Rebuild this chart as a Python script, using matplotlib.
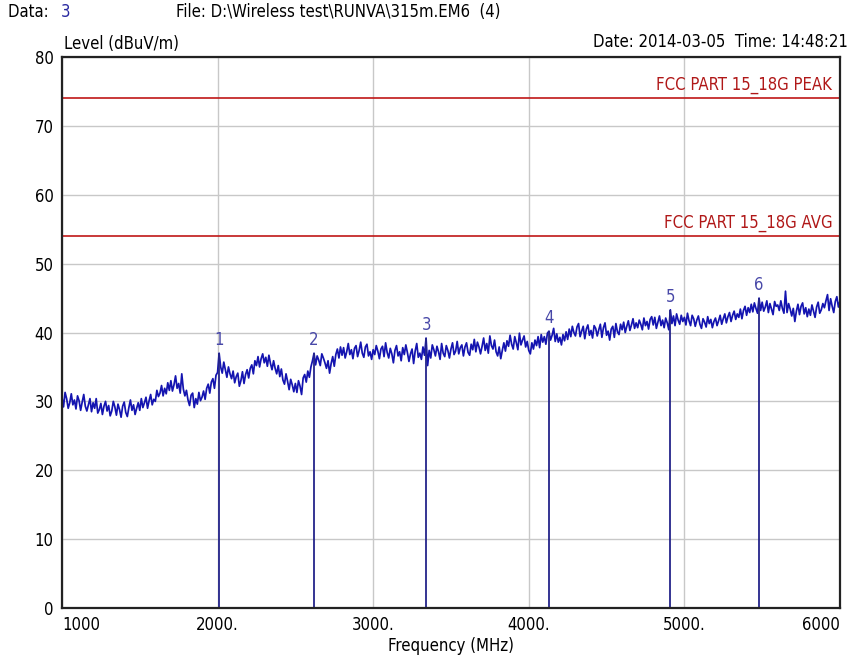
import numpy as np
import matplotlib.pyplot as plt

# EMI scan, 1000-6000 MHz, level in dBuV/m (10 MHz step)
level = [
    30.6, 29.2, 31.3, 30.4, 29.0, 29.8, 31.1, 29.5, 30.2, 28.9,
    30.8, 30.1, 28.7, 29.9, 31.0, 29.3, 28.6, 29.5, 30.4, 28.5,
    29.8, 29.0, 30.4, 28.3, 28.8, 29.7, 28.1, 29.3, 30.0, 28.6,
    29.4, 27.9, 28.6, 30.0, 29.2, 28.0, 29.6, 28.8, 27.7, 29.3,
    29.9, 28.4, 27.8, 29.1, 30.2, 28.7, 29.5, 28.1, 29.0, 29.8,
    28.7, 30.4, 29.1, 29.8, 30.6, 29.0, 30.1, 31.0, 29.5, 30.3,
    30.0, 31.6, 30.7, 31.2, 32.3, 30.8, 31.9, 31.1, 32.7, 31.6,
    33.0, 31.5, 32.4, 33.7, 31.9, 32.6, 31.2, 34.0, 31.8, 30.8,
    31.6, 30.2, 29.4, 30.9, 31.2, 29.1, 30.4, 29.6, 31.3, 30.1,
    30.6, 31.5, 30.3, 31.9, 32.5, 31.2, 32.8, 33.3, 31.9, 33.8,
    34.2, 37.0, 35.0, 34.1, 35.7, 34.6, 33.5, 35.0, 34.0, 33.3,
    34.4, 32.7, 33.6, 34.1, 32.2, 33.0, 34.3, 32.6, 33.9, 34.6,
    33.4, 34.8, 35.3, 34.0, 35.9, 35.2, 36.5, 35.0, 36.2, 36.9,
    35.6, 36.4, 35.1, 36.7, 35.5, 34.6, 35.9, 34.8, 34.0, 35.2,
    33.6, 34.7, 33.1, 32.5, 34.0, 32.9, 31.7, 33.2, 32.4, 31.4,
    32.6, 31.3, 33.0, 32.2, 31.0, 33.4, 33.9, 32.8, 34.4, 33.5,
    35.0, 35.9, 37.0, 35.3, 36.6, 36.0, 35.2, 36.9, 36.3, 35.6,
    34.8, 35.9, 34.1, 35.5, 36.5, 35.1, 36.8, 37.6, 36.3, 37.9,
    36.7, 37.8, 36.3, 37.2, 38.4, 36.8, 37.5, 36.2, 37.7, 38.1,
    36.5, 37.4, 38.6, 37.0, 36.4, 37.9, 38.3, 36.6, 37.2, 36.1,
    37.5, 36.8, 38.1, 37.3, 36.2, 37.6, 38.0, 36.5, 38.5, 37.1,
    36.3, 37.7, 36.9, 35.6, 37.4, 38.1, 36.6, 37.2, 35.9, 37.8,
    36.8, 38.2, 37.1, 35.8, 36.9, 37.6, 35.5, 37.3, 38.4, 36.4,
    37.0, 36.1, 37.9, 36.7, 39.2, 35.2, 37.4, 36.3, 38.2, 37.5,
    36.6, 38.0, 37.2, 36.1, 38.4, 37.0, 36.5, 38.1, 37.4, 36.3,
    37.6, 38.5, 36.8, 37.3, 38.7, 36.9, 37.8, 38.2, 36.6, 37.9,
    38.5, 37.1, 36.7, 38.3, 37.5, 39.0, 37.2, 38.6, 37.9, 36.9,
    38.0, 39.2, 37.4, 38.4, 37.0, 39.5, 38.1, 37.6, 38.9, 37.2,
    36.6, 37.9, 36.2, 37.4, 38.5, 37.3, 38.8, 38.0, 39.6, 38.3,
    37.6, 39.4, 38.5, 37.5, 39.9, 38.2, 38.9, 39.5, 37.9, 38.7,
    37.4, 36.9, 38.5, 37.6, 38.9, 38.1, 39.4, 37.8, 39.7, 38.6,
    39.4, 38.3, 39.9, 40.2, 38.9, 39.6, 40.6, 38.7, 39.8, 38.6,
    39.3, 38.2, 39.7, 38.8, 40.1, 39.0, 40.5, 39.4, 40.9, 40.0,
    39.5, 40.8, 41.3, 39.4, 40.2, 40.9, 39.1, 40.5, 41.1, 39.6,
    40.3, 39.2, 41.0, 40.6, 39.5, 40.4, 41.2, 39.3, 40.7, 41.4,
    39.6, 40.2, 38.9, 40.5, 40.9, 39.3, 41.3, 40.1, 39.7, 41.2,
    40.4, 41.5, 40.0, 40.9, 41.7, 40.3, 41.1, 42.0, 40.6, 41.4,
    40.7, 41.8, 41.2, 40.4, 42.1, 41.0, 41.6, 40.5, 41.9, 42.3,
    41.1, 42.2, 40.6, 41.5, 42.4, 41.0, 41.8, 40.7, 42.1, 41.4,
    40.4, 43.3, 41.3, 42.4, 41.0, 42.7, 41.8, 41.2, 42.5, 41.6,
    42.2, 41.1, 42.8, 41.7, 41.0, 42.5, 42.0, 40.9, 41.8, 42.4,
    41.2, 40.6, 42.0, 41.5, 40.8, 42.3, 41.3, 41.9, 40.7, 41.6,
    42.1, 41.0, 41.7, 42.5, 41.2, 42.0, 42.7, 41.4, 42.3, 42.9,
    41.6, 42.5, 43.1, 41.9, 42.7, 42.2, 43.4, 42.0, 43.2, 43.8,
    42.5, 43.6, 42.9, 44.1, 43.0, 44.3, 43.5, 42.8, 45.0, 43.2,
    44.4, 43.1, 43.7, 44.6, 42.9, 44.2, 43.4, 42.6, 44.5, 43.8,
    44.0, 43.2, 44.6, 43.5, 42.8, 46.0, 42.9, 44.2, 43.4, 42.4,
    43.5, 41.6, 43.1, 44.1, 42.6, 43.8, 44.3, 42.7, 43.6, 42.3,
    43.4, 42.5, 44.0, 43.1, 42.2, 43.7, 44.4, 42.8, 43.3, 44.2,
    43.6, 44.6, 45.5, 43.2, 44.9, 43.8, 42.9, 44.5, 45.2, 43.7,
    44.6,
]
freq = np.linspace(1000, 6000, len(level))

# markers
mk_freq = [2010, 2620, 3340, 4130, 4910, 5480]
mk_level = [37.0, 37.0, 39.2, 40.2, 43.3, 45.0]
mk_label = ["1", "2", "3", "4", "5", "6"]

# limit lines
lim_names = ["FCC PART 15_18G PEAK", "FCC PART 15_18G AVG"]
lim_values = [74, 54]

xticks = [1000, 2000, 3000, 4000, 5000, 6000]
xtick_labels = ["1000", "2000.", "3000.", "4000.", "5000.", "6000"]
yticks = [0, 10, 20, 30, 40, 50, 60, 70, 80]

plt.rcParams['font.family'] = ['DejaVu Sans']
plt.rcParams['font.stretch'] = 'condensed'
plt.rcParams['font.size'] = 11

fig = plt.figure(figsize=(8.63, 6.57), dpi=100)
ax = fig.add_axes([0.0718, 0.0746, 0.9015, 0.8386])

ax.set_xlim(1000, 6000)
ax.set_ylim(0, 80)
ax.set_xticks(xticks)
ax.set_xticklabels(xtick_labels)
ax.set_yticks(yticks)
ax.tick_params(length=0, pad=6, labelsize=12)
labels = ax.get_xticklabels()
labels[0].set_ha("left")
labels[-1].set_ha("right")
ax.grid(True, color="#c8c8c8", lw=1)
ax.set_axisbelow(True)
for s in ax.spines.values():
    s.set_color("#222222")
    s.set_linewidth(1.6)

for name, v in zip(lim_names, lim_values):
    ax.axhline(v, color="#c01818", lw=1.2)
    ax.text(5950, v + 0.6, name, color="#b01818", ha="right", va="bottom", fontsize=12)

ax.plot(freq, level, color="#1414b0", lw=1.25)

ax.vlines(mk_freq, 0, mk_level, color="#24248a", lw=1.3)
for f, v, t in zip(mk_freq, mk_level, mk_label):
    ax.text(f, v + 0.6, t, color="#4848a8", ha="center", va="bottom", fontsize=12)

ax.set_xlabel("Frequency (MHz)", fontsize=12, labelpad=2)

fig.text(0.009, 0.982, "Data: ", fontsize=12, va="center")
fig.text(0.070, 0.982, "3", fontsize=12, va="center", color="#2828a0")
fig.text(0.204, 0.982, "File: D:\\Wireless test\\RUNVA\\315m.EM6  (4)", fontsize=12, va="center")
fig.text(0.983, 0.936, "Date: 2014-03-05  Time: 14:48:21", fontsize=12, va="center", ha="right")
fig.text(0.074, 0.933, "Level (dBuV/m)", fontsize=12, va="center")

fig.savefig("out.png", dpi=100)
